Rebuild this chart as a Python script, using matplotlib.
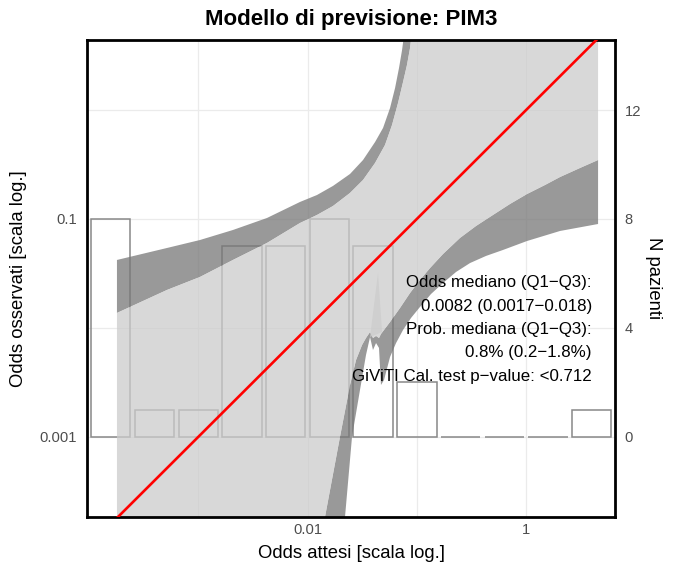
import matplotlib
matplotlib.use("Agg")
import matplotlib.pyplot as plt
import numpy as np

plt.rcParams["font.family"] = ["Liberation Sans", "DejaVu Sans"]

# histogram of expected odds: bin centres (log10 odds) and number of patients
bin_centres = np.array([-3.8, -3.4, -3.0, -2.6, -2.2, -1.8, -1.4, -1.0, -0.6, -0.2, 0.2, 0.6])
n_patients = np.array([8, 1, 1, 7, 7, 8, 7, 2, 0, 0, 0, 1])

# calibration belt edges, log10 odds (x = expected, y = observed)
up95_x = [-3.743, -3.285, -2.984, -2.682, -2.371, -2.069, -1.913, -1.767, -1.611, -1.492, -1.382, -1.309,
          -1.245, -1.199, -1.163, -1.135, -1.117, -1.099]
up95_y = [-1.376, -1.266, -1.193, -1.101, -0.991, -0.844, -0.780, -0.697, -0.587, -0.459, -0.294, -0.165,
          0.018, 0.202, 0.385, 0.550, 0.688, 0.826]
up80_x = [-3.743, -3.285, -2.984, -2.682, -2.371, -2.069, -1.913, -1.767, -1.611, -1.492, -1.382, -1.291,
          -1.227, -1.172, -1.126, -1.090, -1.062, -1.044, -1.035]
up80_y = [-1.862, -1.651, -1.532, -1.376, -1.220, -1.037, -0.963, -0.881, -0.761, -0.642, -0.486, -0.321,
          -0.138, 0.064, 0.257, 0.413, 0.569, 0.734, 0.826]
lo80_x = [-3.743, -1.913, -1.840, -1.703, -1.611, -1.556, -1.501, -1.465, -1.428, -1.401, -1.373, -1.346,
          -1.328, -1.300, -1.245, -1.154, -1.062, -0.971, -0.879, -0.760, -0.605, -0.458, -0.303, -0.147,
          0.008, 0.173, 0.310, 0.493, 0.658]
lo80_y = [-4.2, -4.2, -3.734, -3.0, -2.523, -2.294, -2.156, -2.092, -2.037, -2.092, -2.073, -2.092,
          -2.055, -2.018, -1.945, -1.817, -1.679, -1.560, -1.450, -1.321, -1.174, -1.064, -0.963, -0.862,
          -0.771, -0.688, -0.615, -0.532, -0.459]
lo95_x = [-1.694, -1.657, -1.593, -1.520, -1.465, -1.428, -1.401, -1.373, -1.346, -1.328, -1.300, -1.245,
          -1.190, -1.126, -1.053, -0.971, -0.870, -0.760, -0.641, -0.513, -0.367, -0.211, 0.008, 0.310, 0.658]
lo95_y = [-4.2, -3.734, -3.0, -2.569, -2.248, -2.083, -2.202, -2.138, -2.183, -2.523, -2.477, -2.266,
          -2.138, -2.018, -1.908, -1.807, -1.688, -1.587, -1.486, -1.404, -1.339, -1.284, -1.202, -1.110, -1.046]
# small artefact of the belt around odds 0.04
spike_x = [-1.428, -1.355, -1.318]
spike_y = [-2.083, -1.495, -2.037]

stats_lines = [
    "Odds mediano (Q1\u2212Q3):",
    "0.0082 (0.0017\u22120.018)",
    "Prob. mediana (Q1\u2212Q3):",
    "0.8% (0.2\u22121.8%)",
    "GiViTI Cal. test p\u2212value: <0.712",
]

x_ticks = [0.01, 1]
x_ticklabels = ["0.01", "1"]
y_ticks = [0.001, 0.1]
y_ticklabels = ["0.001", "0.1"]
n_ticks = [0, 4, 8, 12]
grid_x = [0.001, 0.01, 0.1, 1]

light = "#CCCCCC"
dark = "#777777"

fig, ax = plt.subplots(figsize=(6.76, 5.69), dpi=100)
fig.subplots_adjust(left=0.1287, right=0.9098, top=0.9297, bottom=0.0914)
ax2 = ax.twinx()
ax.set_zorder(ax2.get_zorder() + 1)
ax.patch.set_visible(False)

ax.set_xscale("log")
ax.set_yscale("log")
ax.set_xlim(10 ** -4.017, 10 ** 0.813)
ax.set_ylim(10 ** -3.734, 10 ** 0.642)
ax2.set_ylim(-2.94, 14.57)

# grid + histogram on the twin axis (under the belt)
ax2.set_yticks(n_ticks)
ax2.grid(axis="y", color="#EBEBEB", lw=0.9)
for gx in grid_x:
    ax2.axvline(gx, color="#EBEBEB", lw=0.9, zorder=0.5)
ax2.set_axisbelow(True)

half = 0.18
lefts = 10 ** (bin_centres - half)
rights = 10 ** (bin_centres + half)
ax2.bar(lefts, n_patients, width=rights - lefts, align="edge", fill=False,
        edgecolor="#888888", lw=1.1, zorder=2)

# belt polygons
def poly(xa, ya, xb, yb):
    px = np.concatenate([xa, xb[::-1]])
    py = np.concatenate([ya, yb[::-1]])
    return 10 ** px, 10 ** py

up95_x, up95_y, up80_x, up80_y = map(np.array, (up95_x, up95_y, up80_x, up80_y))
lo80_x, lo80_y, lo95_x, lo95_y = map(np.array, (lo80_x, lo80_y, lo95_x, lo95_y))

px, py = poly(up95_x, up95_y, up80_x, up80_y)
ax.fill(px, py, color=dark, alpha=0.75, lw=0)
px, py = poly(lo80_x, lo80_y, lo95_x, lo95_y)
ax.fill(px, py, color=dark, alpha=0.75, lw=0)
top_x = np.append(up80_x, lo80_x[-1])
top_y = np.append(up80_y, up80_y[-1])
px, py = poly(top_x, top_y, lo80_x, lo80_y)
ax.fill(px, py, color=light, alpha=0.75, lw=0)
ax.fill(10 ** np.array(spike_x), 10 ** np.array(spike_y), color=light, alpha=0.75, lw=0)

ax.axline((1e-3, 1e-3), (1, 1), color="red", lw=1.9, zorder=5)

ax.text(0.956, 0.393, "\n".join(stats_lines), transform=ax.transAxes, ha="right", va="center",
        multialignment="right", fontsize=12.2, linespacing=1.69, zorder=6)

ax.set_xticks(x_ticks)
ax.set_xticklabels(x_ticklabels)
ax.set_yticks(y_ticks)
ax.set_yticklabels(y_ticklabels)
ax.minorticks_off()
ax.tick_params(length=0, colors="#4D4D4D", labelsize=10.6)
ax.tick_params(axis="x", pad=4)
ax.tick_params(axis="y", pad=7)
ax2.tick_params(length=0, colors="#4D4D4D", labelsize=10.6, pad=7)

for s in ax.spines.values():
    s.set_linewidth(2.0)
    s.set_color("black")
for s in ax2.spines.values():
    s.set_visible(False)

ax.set_title("Modello di previsione: PIM3", fontsize=16, fontweight="bold", pad=11)
ax.set_xlabel("Odds attesi [scala log.]", fontsize=13.3, labelpad=6)
ax.set_ylabel("Odds osservati [scala log.]", fontsize=13.3, labelpad=9.5)
ax2.set_ylabel("N pazienti", fontsize=13.3, rotation=270, labelpad=15)

fig.savefig("out.png", dpi=100, facecolor="white")
